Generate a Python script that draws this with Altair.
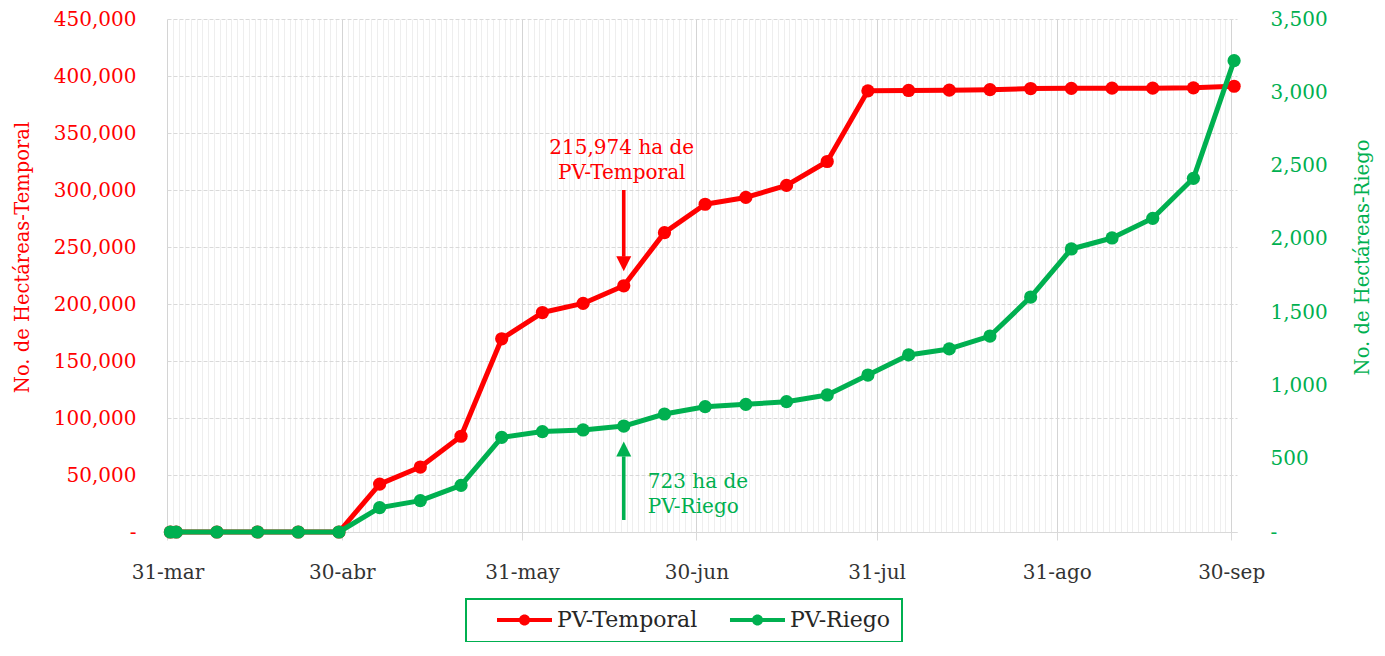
import altair as alt
import pandas as pd
from datetime import datetime, timedelta, timezone

# ---------------- data ----------------
dates = ["2023-04-01", "2023-04-02", "2023-04-09", "2023-04-16", "2023-04-23", "2023-04-30",
         "2023-05-07", "2023-05-14", "2023-05-21", "2023-05-28",
         "2023-06-04", "2023-06-11", "2023-06-18", "2023-06-25",
         "2023-07-02", "2023-07-09", "2023-07-16", "2023-07-23", "2023-07-30",
         "2023-08-06", "2023-08-13", "2023-08-20", "2023-08-27",
         "2023-09-03", "2023-09-10", "2023-09-17", "2023-09-24", "2023-10-01"]
temporal = [0, 0, 0, 0, 0, 0,
            42000, 57000, 84000, 169500,
            192500, 200500, 215974, 262600,
            287500, 293500, 304000, 325000, 387000,
            387300, 387600, 388000, 389000,
            389200, 389300, 389300, 389600, 391000]
riego = [0, 0, 0, 0, 0, 0,
         166, 214, 318, 646,
         685, 696, 723, 805,
         855, 871, 889, 935, 1071,
         1208, 1249, 1337, 1603,
         1931, 2006, 2140, 2413, 3216]
series_names = ["PV-Temporal", "PV-Riego"]
series_colors = ["#FF0000", "#00B050"]

temporal_ticks = list(range(0, 450001, 50000))
riego_ticks = list(range(0, 3501, 500))
month_abbr = ["ene", "feb", "mar", "abr", "may", "jun", "jul", "ago", "sep", "oct", "nov", "dic"]

note_date = "2023-06-18"
red_note_lines = ["215,974 ha de", "PV-Temporal"]
red_note_values = [336800, 314900]
red_arrow = [300000, 241500]
red_head = [235200]
green_note_lines = ["723 ha de", "PV-Riego"]
green_note_values = [341, 171]
green_arrow = [82, 516]
green_head = [567]

RED, GREEN = series_colors
FONT = "DejaVu Serif"

# ---------------- tables ----------------
df = pd.DataFrame({
    "date": dates * 2,
    "series": [series_names[0]] * len(dates) + [series_names[1]] * len(dates),
    "value": temporal + riego,
})
red_txt = pd.DataFrame({"date": [note_date] * 2, "value": red_note_values, "text": red_note_lines})
green_txt = pd.DataFrame({"date": [note_date] * 2, "value": green_note_values, "text": green_note_lines})
red_rule = pd.DataFrame({"date": [note_date], "value": [red_arrow[0]], "value2": [red_arrow[1]]})
green_rule = pd.DataFrame({"date": [note_date], "value": [green_arrow[0]], "value2": [green_arrow[1]]})
red_hd = pd.DataFrame({"date": [note_date], "value": red_head})
green_hd = pd.DataFrame({"date": [note_date], "value": green_head})

# ---------------- scales / axes ----------------
utc = timezone.utc
def ms(dt):
    return int(dt.timestamp() * 1000)

x_domain = [ms(datetime(2023, 3, 31, 10, tzinfo=utc)), ms(datetime(2023, 10, 1, 12, tzinfo=utc))]
day0 = datetime(2023, 3, 31, 12, tzinfo=utc)
day_ticks = [ms(day0 + timedelta(days=i)) for i in range(184)]

month_end = "utcdate(time(datum.value) + 86400000) == 1"
months_js = "[" + ",".join("'%s'" % m for m in month_abbr) + "]"

X = alt.X(
    "date:T",
    scale=alt.Scale(type="utc", domain=x_domain),
    axis=alt.Axis(
        values=day_ticks,
        title=None,
        labelExpr=f"{month_end} ? (utcdate(datum.value) + '-' + {months_js}[utcmonth(datum.value)]) : ''",
        labelOverlap=False,
        labelFlush=False,
        labelFontSize=20,
        labelColor="#333333",
        labelPadding=22,
        tickSize=8,
        tickColor=alt.condition(month_end, alt.value("#d9d9d9"), alt.value("transparent")),
        grid=True,
        gridColor=alt.condition(month_end, alt.value("#d4d4d4"), alt.value("#eeeeee")),
        gridWidth=1,
        domainColor="#d9d9d9",
        domainWidth=1,
    ),
)

lbl = "datum.value == 0 ? '-' : format(datum.value, ',')"

Yr_axis = alt.Axis(
    values=temporal_ticks, orient="left", title="No. de Hectáreas-Temporal",
    labelExpr=lbl, labelColor=RED, labelFontSize=20, labelPadding=31,
    ticks=False, tickSize=0, domain=False,
    grid=True, gridColor="#d9d9d9", gridDash=[4, 2], gridWidth=1,
    titleColor=RED, titleFontSize=19.5, titleFontWeight="normal",
    titleAngle=270, titleX=-144.5, titleY=238, titleBaseline="middle", titleAlign="center",
)
Yg_axis = alt.Axis(
    values=riego_ticks, orient="right", title="No. de Hectáreas-Riego",
    labelExpr=lbl, labelColor=GREEN, labelFontSize=20, labelPadding=33,
    ticks=False, tickSize=0, domain=False, grid=False,
    titleColor=GREEN, titleFontSize=19.5, titleFontWeight="normal",
    titleAngle=270, titleX=125, titleY=238, titleBaseline="middle", titleAlign="center",
)
Yr_scale = alt.Scale(domain=[0, 450000], nice=False)
Yg_scale = alt.Scale(domain=[0, 3500], nice=False)

series_scale = alt.Scale(domain=series_names, range=series_colors)

SYM = ("M-0.467,-0.056 L1,-0.056 L1,0.056 L-0.467,0.056 Z "
       "M0.414,0 A0.147,0.147 0 1,1 0.120,0 A0.147,0.147 0 1,1 0.414,0 Z")

def make_legend():
    return alt.Legend(
        orient="none", legendX=299, legendY=580, direction="horizontal",
        symbolType=SYM, symbolSize=5625, symbolStrokeWidth=0, symbolOpacity=1,
        clipHeight=20, labelFontSize=22, labelColor="#262626", labelOffset=5,
        columnPadding=12, padding=11, strokeColor=GREEN,
    )

# ---------------- layers ----------------
def series_layers(name, scale, axis):
    Y = alt.Y("value:Q", scale=scale, axis=axis)
    base = alt.Chart(df).transform_filter(f"datum.series == '{name}'").encode(x=X, y=Y)
    line = base.mark_line(strokeWidth=5, strokeCap="round", strokeJoin="round").encode(
        stroke=alt.Stroke("series:N", scale=series_scale, title=None, legend=make_legend())
    )
    pts = base.mark_circle(size=175, opacity=1).encode(
        fill=alt.Fill("series:N", scale=series_scale, title=None, legend=make_legend())
    )
    return line, pts, Y

r_line, r_pts, Yr = series_layers(series_names[0], Yr_scale, Yr_axis)
g_line, g_pts, Yg = series_layers(series_names[1], Yg_scale, Yg_axis)

def notes(txt, rule, hd, Y, color, align, dx, head_shape):
    t = alt.Chart(txt).mark_text(font=FONT, fontSize=20, color=color, align=align,
                                 baseline="middle", dx=dx).encode(x=X, y=Y, text="text:N")
    r = alt.Chart(rule).mark_rule(color=color, strokeWidth=3.5).encode(x=X, y=Y, y2="value2:Q")
    h = alt.Chart(hd).mark_point(shape=head_shape, size=225, filled=True, opacity=1,
                                 strokeWidth=0, color=color).encode(x=X, y=Y)
    return [t, r, h]

red_notes = notes(red_txt, red_rule, red_hd, Yr, RED, "center", -2, "M-1,-1 L1,-1 L0,1 Z")
green_notes = notes(green_txt, green_rule, green_hd, Yg, GREEN, "left", 24, "M-1,1 L1,1 L0,-1 Z")

red_group = alt.layer(r_line, r_pts, *red_notes)
green_group = alt.layer(g_line, g_pts, *green_notes)

chart = (
    alt.layer(red_group, green_group)
    .resolve_scale(y="independent")
    .properties(
        width=1070, height=513,
        autosize=alt.AutoSizeParams(type="none"),
        padding={"left": 159, "top": 11, "right": 140, "bottom": 110},
    )
    .configure(font=FONT)
    .configure_view(stroke="transparent")
    .configure_legend(strokeWidth=2)
)

chart.save("out.html", embed_options={"renderer": "svg", "actions": False})
